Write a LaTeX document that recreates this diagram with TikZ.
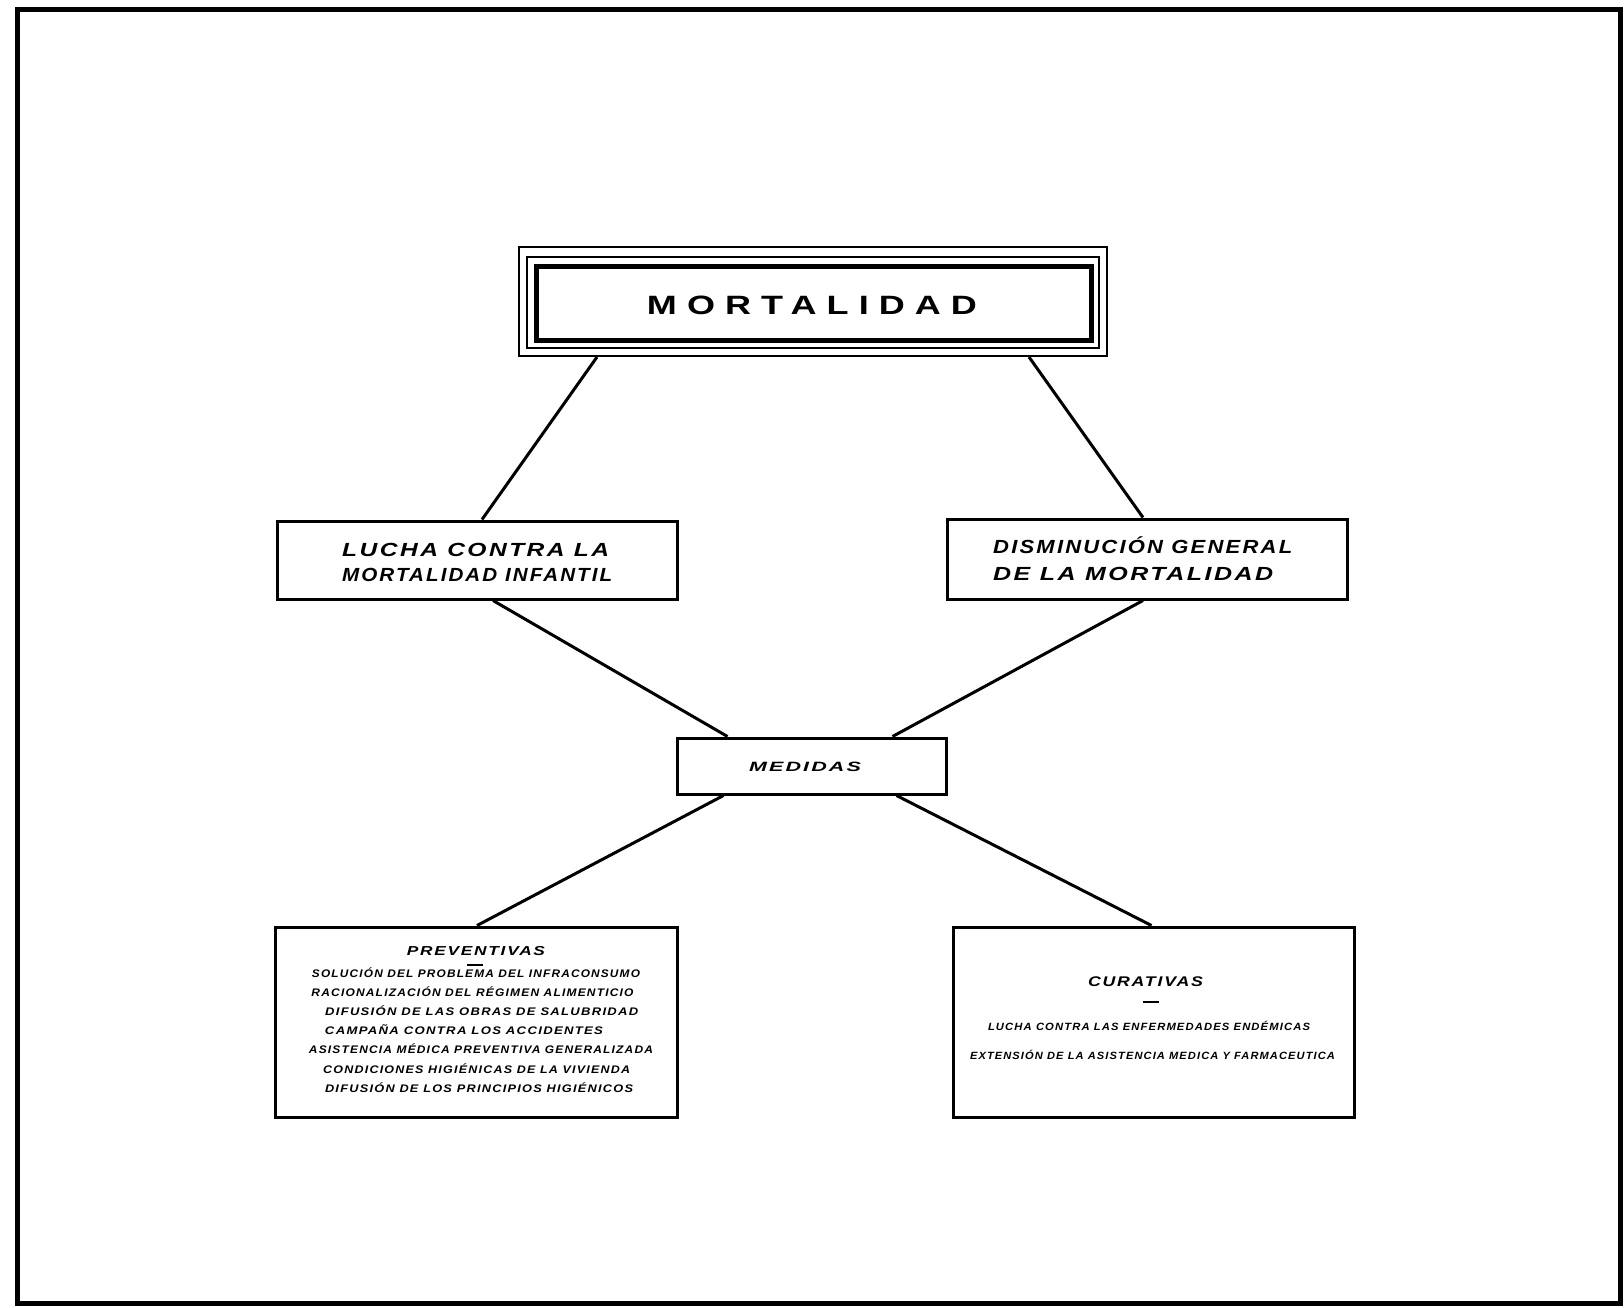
\documentclass[tikz,border=0pt]{standalone}
\usepackage{fontspec}
\usepackage{graphicx}
\setmainfont{Liberation Sans}
\newfontfamily\titlefont[LetterSpace=28]{Liberation Sans}
\newfontfamily\handfont[LetterSpace=10]{Liberation Sans}
\newcommand\fw[2]{\resizebox{#1pt}{\height}{#2}}
\begin{document}
\begin{tikzpicture}[x=1pt,y=-1pt,
  box/.style={draw, line width=3pt, inner sep=0pt, rectangle},
  thinbox/.style={draw, line width=2pt, inner sep=0pt, rectangle},
  txt/.style={inner sep=0pt, font=\handfont\bfseries\itshape},
  link/.style={line width=3pt}]
\useasboundingbox (0,0) rectangle (1624,1307);
\fill[white] (0,0) rectangle (1624,1307);
\draw[line width=5pt] (17,9) rectangle (1620,1303);

% MORTALIDAD
\node[thinbox, minimum width=588pt, minimum height=109pt] (mortO) at (813,301.5) {};
\node[thinbox, minimum width=572pt, minimum height=91pt] (mortM) at (813,302.5) {};
\node[draw, line width=5pt, inner sep=0pt, minimum width=555pt, minimum height=74pt] (mortI) at (813.5,303) {};
\node[inner sep=0pt, font=\titlefont\bfseries\fontsize{26.5}{30}\selectfont] (mortT) at (812,305) {\fw{330}{MORTALIDAD}};

% second level
\node[box, minimum width=400pt, minimum height=78pt] (lucha) at (477,560) {};
\node[txt, anchor=west, align=left, font=\handfont\bfseries\itshape\fontsize{19}{25}\selectfont] (luchaT) at (342,562) {\fw{267}{LUCHA CONTRA LA}\\\fw{270}{MORTALIDAD INFANTIL}};

\node[box, minimum width=400pt, minimum height=80pt] (dism) at (1147,559) {};
\node[txt, anchor=west, align=left, font=\handfont\bfseries\itshape\fontsize{19}{27}\selectfont] (dismT) at (993,559) {\fw{299}{DISMINUCIÓN GENERAL}\\\fw{280}{DE LA MORTALIDAD}};

% MEDIDAS
\node[box, minimum width=269pt, minimum height=56pt] (medidas) at (811.5,766) {};
\node[txt, font=\handfont\bfseries\itshape\fontsize{13.5}{15}\selectfont] (medidasT) at (805,767) {\fw{112}{MEDIDAS}};

% PREVENTIVAS
\node[box, minimum width=402pt, minimum height=190pt] (prev) at (476,1022) {};
\node[txt, font=\handfont\bfseries\itshape\fontsize{13}{15}\selectfont] (prevT) at (476,951) {\fw{138}{PREVENTIVAS}};
\draw[line width=2pt] ([xshift=-9pt,yshift=-9pt]prevT.south) -- ([xshift=7pt,yshift=-9pt]prevT.south);
\begin{scope}[every node/.style={txt, font=\handfont\bfseries\itshape\fontsize{11}{12}\selectfont}]
\node (p1) at (476,973)   {\fw{328}{SOLUCIÓN DEL PROBLEMA DEL INFRACONSUMO}};
\node (p2) at (472.5,992) {\fw{322}{RACIONALIZACIÓN DEL RÉGIMEN ALIMENTICIO}};
\node (p3) at (481.7,1011){\fw{313}{DIFUSIÓN DE LAS OBRAS DE SALUBRIDAD}};
\node (p4) at (464,1030)  {\fw{278}{CAMPAÑA CONTRA LOS ACCIDENTES}};
\node (p5) at (481,1049)  {\fw{344}{ASISTENCIA MÉDICA PREVENTIVA GENERALIZADA}};
\node (p6) at (476.7,1069){\fw{307}{CONDICIONES HIGIÉNICAS DE LA VIVIENDA}};
\node (p7) at (479,1088)  {\fw{308}{DIFUSIÓN DE LOS PRINCIPIOS HIGIÉNICOS}};
\end{scope}

% CURATIVAS
\node[box, minimum width=401pt, minimum height=190pt] (cur) at (1153.5,1022) {};
\node[txt, font=\handfont\bfseries\itshape\fontsize{14}{15}\selectfont] (curT) at (1145.5,982) {\fw{115}{CURATIVAS}};
\draw[line width=2.5pt] ([xshift=-3pt,yshift=-15pt]curT.south) -- ([xshift=13pt,yshift=-15pt]curT.south);
\begin{scope}[every node/.style={txt, font=\handfont\bfseries\itshape\fontsize{10.5}{12}\selectfont}]
\node (c1) at (1149,1026)  {\fw{322}{LUCHA CONTRA LAS ENFERMEDADES ENDÉMICAS}};
\node (c2) at (1152.5,1055){\fw{365}{EXTENSIÓN DE LA ASISTENCIA MEDICA Y FARMACEUTICA}};
\end{scope}

% connectors
\draw[link] ([xshift=79pt]mortO.south west) -- ([xshift=5pt]lucha.north);
\draw[link] ([xshift=-79pt]mortO.south east) -- ([xshift=-4pt]dism.north);
\draw[link] ([xshift=16pt]lucha.south) -- ([xshift=-84pt]medidas.north);
\draw[link] ([xshift=-4pt]dism.south) -- ([xshift=81pt]medidas.north);
\draw[link] ([xshift=-88pt]medidas.south) -- ([xshift=1pt]prev.north);
\draw[link] ([xshift=85pt]medidas.south) -- ([xshift=-2pt]cur.north);
\end{tikzpicture}
\end{document}
